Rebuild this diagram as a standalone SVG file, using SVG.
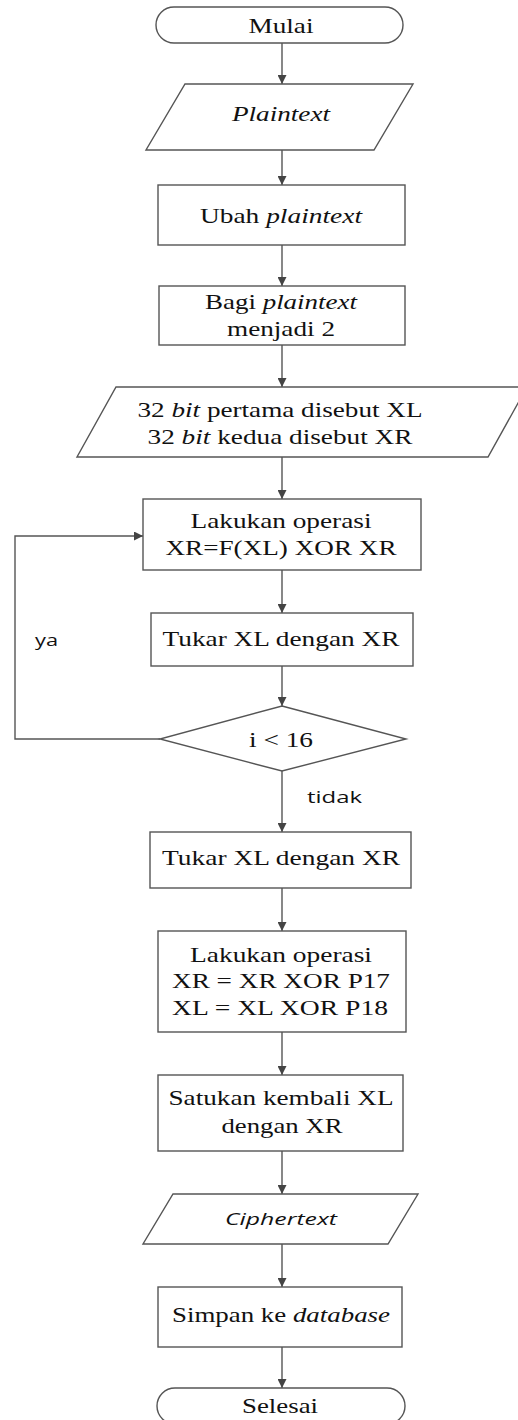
<svg xmlns="http://www.w3.org/2000/svg" width="518" height="1420" viewBox="0 0 518 1420">
<defs>
<style>
.s{fill:#fff;stroke:#555;stroke-width:1.4}
.c{fill:none;stroke:#555;stroke-width:1.4}
.t{font-family:"Liberation Serif","Times New Roman",serif;font-size:21px;fill:#111;text-anchor:middle}
.l{font-family:"Open Sans","Noto Sans",sans-serif;font-size:17px;fill:#111}
.i{font-style:italic}
</style>
<marker id="a" viewBox="0 0 10 10" refX="10" refY="5" markerWidth="9" markerHeight="9" markerUnits="userSpaceOnUse" orient="auto">
<path d="M0,0 L10,5 L0,10 Z" fill="#444"/>
</marker>
</defs>
<rect width="518" height="1420" fill="#fff"/>
<g id="connectors">
<path class="c" d="M282,43 V84" marker-end="url(#a)"/>
<path class="c" d="M282,150 V185" marker-end="url(#a)"/>
<path class="c" d="M282,245 V286" marker-end="url(#a)"/>
<path class="c" d="M282,345 V387" marker-end="url(#a)"/>
<path class="c" d="M282,457 V499" marker-end="url(#a)"/>
<path class="c" d="M282,570 V613" marker-end="url(#a)"/>
<path class="c" d="M282,666 V706" marker-end="url(#a)"/>
<path class="c" d="M282,771 V832" marker-end="url(#a)"/>
<path class="c" d="M282,888 V931" marker-end="url(#a)"/>
<path class="c" d="M282,1032 V1075" marker-end="url(#a)"/>
<path class="c" d="M282,1151 V1194" marker-end="url(#a)"/>
<path class="c" d="M282,1244 V1287" marker-end="url(#a)"/>
<path class="c" d="M282,1347 V1388" marker-end="url(#a)"/>
<path class="c" d="M160,739 H15 V536 H143" marker-end="url(#a)"/>
<text class="l" x="35" y="646" textLength="23" lengthAdjust="spacingAndGlyphs">ya</text>
<text class="l" x="307" y="803" textLength="55" lengthAdjust="spacingAndGlyphs">tidak</text>
</g>
<g id="mulai">
<rect class="s" x="156" y="7" width="247" height="36" rx="18"/>
<text class="t" x="281" y="33" textLength="65" lengthAdjust="spacingAndGlyphs">Mulai</text>
</g>
<g id="plaintext">
<polygon class="s" points="185,84 413,84 374,150 146,150"/>
<text class="t i" x="281" y="121" textLength="98" lengthAdjust="spacingAndGlyphs">Plaintext</text>
</g>
<g id="ubah">
<rect class="s" x="158" y="185" width="247" height="60"/>
<text class="t" x="281" y="223" textLength="162" lengthAdjust="spacingAndGlyphs">Ubah <tspan class="i">plaintext</tspan></text>
</g>
<g id="bagi">
<rect class="s" x="159" y="286" width="246" height="59"/>
<text class="t" x="281" y="309" textLength="152" lengthAdjust="spacingAndGlyphs">Bagi <tspan class="i">plaintext</tspan></text>
<text class="t" x="281" y="336" textLength="108" lengthAdjust="spacingAndGlyphs">menjadi 2</text>
</g>
<g id="split">
<polygon class="s" points="116,387 527,387 488,457 77,457"/>
<text class="t" x="280" y="417" textLength="285" lengthAdjust="spacingAndGlyphs">32 <tspan class="i">bit</tspan> pertama disebut XL</text>
<text class="t" x="280" y="444" textLength="265" lengthAdjust="spacingAndGlyphs">32 <tspan class="i">bit</tspan> kedua disebut XR</text>
</g>
<g id="op1">
<rect class="s" x="143" y="499" width="278" height="71"/>
<text class="t" x="281" y="528" textLength="181" lengthAdjust="spacingAndGlyphs">Lakukan operasi</text>
<text class="t" x="281" y="555" textLength="231" lengthAdjust="spacingAndGlyphs">XR=F(XL) XOR XR</text>
</g>
<g id="tukar1">
<rect class="s" x="151" y="613" width="262" height="53"/>
<text class="t" x="281" y="646" textLength="237" lengthAdjust="spacingAndGlyphs">Tukar XL dengan XR</text>
</g>
<g id="cond">
<polygon class="s" points="282,706 406,739 282,771 160,739"/>
<text class="t" x="281" y="747" textLength="64" lengthAdjust="spacingAndGlyphs">i &lt; 16</text>
</g>
<g id="tukar2">
<rect class="s" x="150" y="832" width="261" height="56"/>
<text class="t" x="281" y="865" textLength="238" lengthAdjust="spacingAndGlyphs">Tukar XL dengan XR</text>
</g>
<g id="op2">
<rect class="s" x="158" y="931" width="248" height="101"/>
<text class="t" x="281" y="962" textLength="182" lengthAdjust="spacingAndGlyphs">Lakukan operasi</text>
<text class="t" x="281" y="988" textLength="218" lengthAdjust="spacingAndGlyphs">XR = XR XOR P17</text>
<text class="t" x="280" y="1015" textLength="216" lengthAdjust="spacingAndGlyphs">XL = XL XOR P18</text>
</g>
<g id="satukan">
<rect class="s" x="158" y="1075" width="245" height="76"/>
<text class="t" x="281" y="1105" textLength="225" lengthAdjust="spacingAndGlyphs">Satukan kembali XL</text>
<text class="t" x="282" y="1133" textLength="121" lengthAdjust="spacingAndGlyphs">dengan XR</text>
</g>
<g id="ciphertext">
<polygon class="s" points="173,1194 418,1194 388,1244 143,1244"/>
<text class="l i" x="281" y="1225" text-anchor="middle" font-size="18" textLength="112" lengthAdjust="spacingAndGlyphs">Ciphertext</text>
</g>
<g id="simpan">
<rect class="s" x="158" y="1287" width="244" height="60"/>
<text class="t" x="281" y="1322" textLength="218" lengthAdjust="spacingAndGlyphs">Simpan ke <tspan class="i">database</tspan></text>
</g>
<g id="selesai">
<rect class="s" x="157" y="1388" width="248" height="36" rx="18"/>
<text class="t" x="280" y="1413" textLength="76" lengthAdjust="spacingAndGlyphs">Selesai</text>
</g>
</svg>
